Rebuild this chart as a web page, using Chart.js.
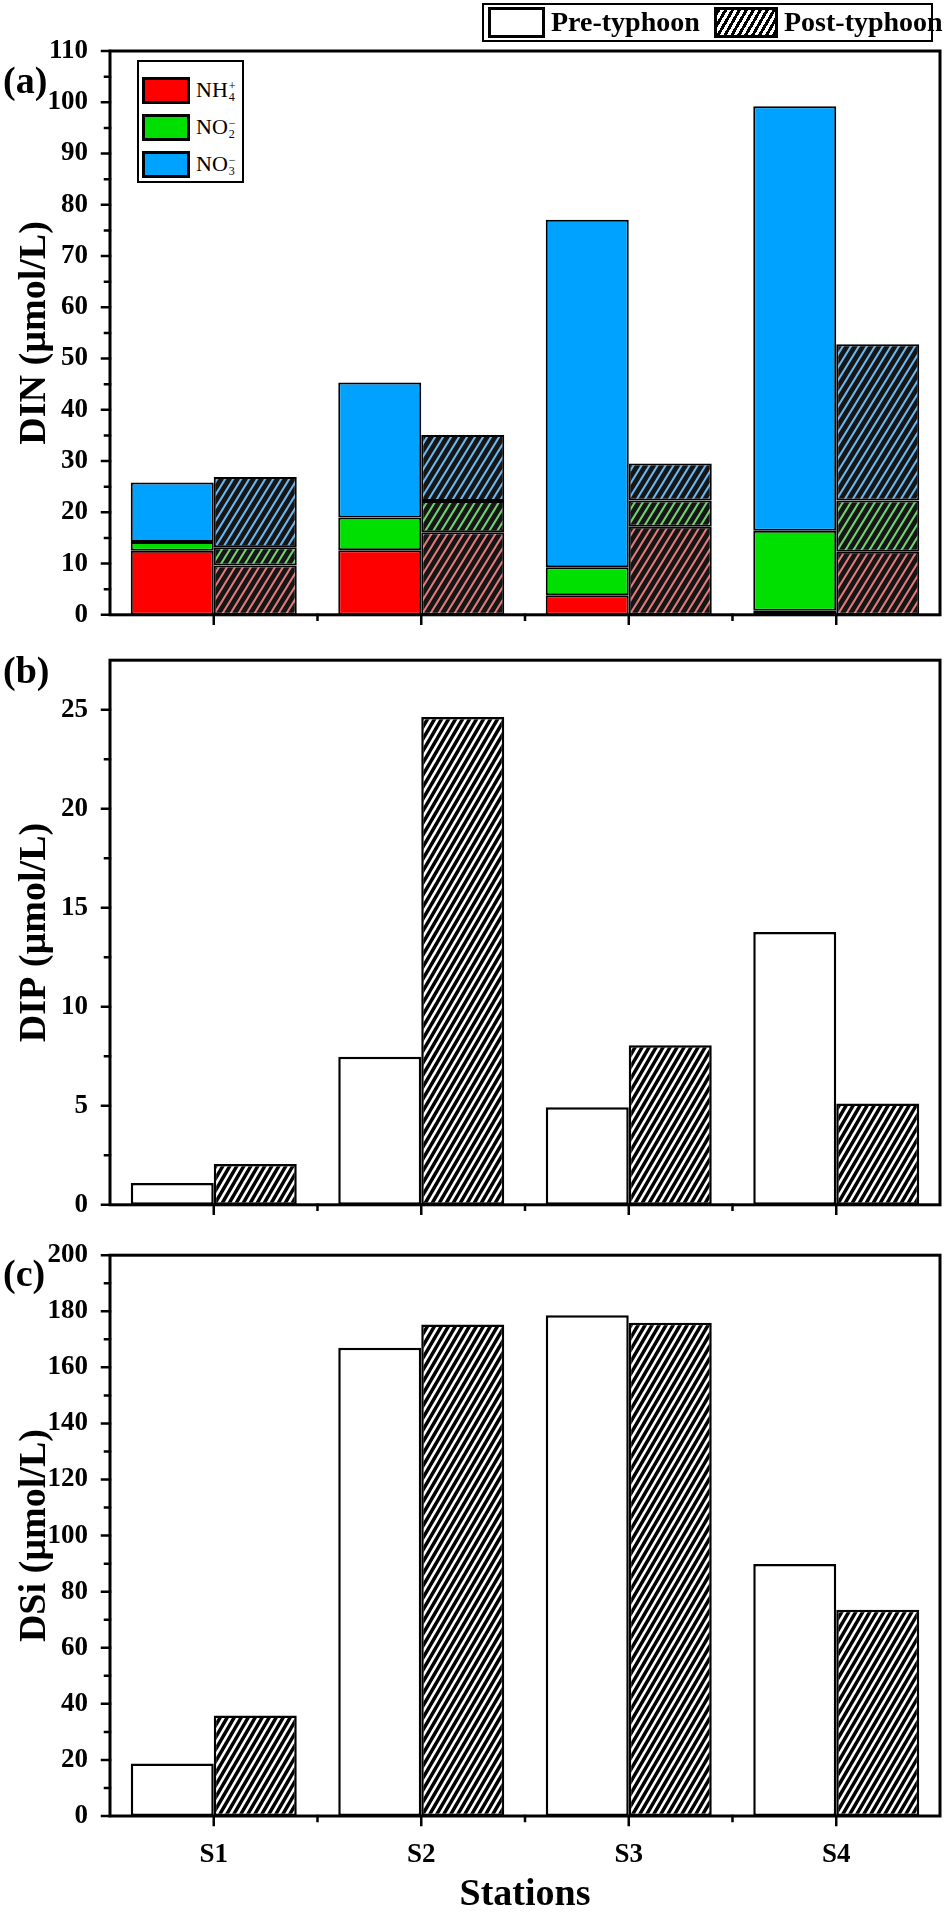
<!DOCTYPE html>
<html><head><meta charset="utf-8">
<script src="https://cdn.jsdelivr.net/npm/chart.js@4.4.0/dist/chart.umd.min.js"></script>
<style>
html,body{margin:0;padding:0;background:#fff;width:945px;height:1913px;overflow:hidden;font-family:'Liberation Serif','Times New Roman',serif;color:#000;}
.pane{position:absolute;left:0;width:945px;}
.plabel{position:absolute;left:3px;font-weight:bold;font-size:38px;line-height:38px;}
.box{position:absolute;box-sizing:border-box;border:2px solid #000;background:#fff;}
.sw{position:absolute;box-sizing:border-box;border:3px solid #000;}
.tl{position:absolute;font-weight:bold;font-size:28px;line-height:32px;white-space:nowrap;}
.il{position:absolute;font-size:22px;line-height:26px;white-space:nowrap;}
.ss{display:inline-flex;flex-direction:column;font-size:12px;line-height:11px;vertical-align:middle;margin-left:1px;}
.hatchsw{background:repeating-linear-gradient(120deg,#000 0 3px,#fff 3px 6px);}
</style></head>
<body>
<div id="pa" class="pane" style="top:0;height:645px;"><canvas id="ca"></canvas></div>
<div id="pb" class="pane" style="top:630px;height:605px;"><canvas id="cb"></canvas></div>
<div id="pc" class="pane" style="top:1225px;height:689px;"><canvas id="cc"></canvas></div>

<div class="plabel" style="top:61px;">(a)</div>
<div class="plabel" style="top:651px;">(b)</div>
<div class="plabel" style="top:1254px;">(c)</div>

<!-- top legend -->
<div class="box" style="left:482px;top:3px;width:451px;height:39px;"></div>
<div class="sw" style="left:488px;top:7px;width:57px;height:31px;background:#fff;"></div>
<div class="tl" style="left:551px;top:6px;">Pre-typhoon</div>
<div class="sw hatchsw" style="left:714px;top:7px;width:64px;height:31px;"></div>
<div class="tl" style="left:784px;top:6px;">Post-typhoon</div>

<!-- inner legend panel a -->
<div class="box" style="left:137px;top:60px;width:107px;height:123px;"></div>
<div class="sw" style="left:142px;top:77px;width:48px;height:27px;background:#ff0000;"></div>
<div class="il" style="left:196px;top:77px;">NH<span class="ss"><span>+</span><span>4</span></span></div>
<div class="sw" style="left:142px;top:114px;width:48px;height:27px;background:#00e000;"></div>
<div class="il" style="left:196px;top:114px;">NO<span class="ss"><span>&minus;</span><span>2</span></span></div>
<div class="sw" style="left:142px;top:151px;width:48px;height:27px;background:#00a2ff;"></div>
<div class="il" style="left:196px;top:151px;">NO<span class="ss"><span>&minus;</span><span>3</span></span></div>

<script>
// ---------- data ----------
const stations = ['S1', 'S2', 'S3', 'S4'];
// (a) DIN components (µmol/L)
const nh4Pre  = [12.5, 12.6, 3.8, 0.8];
const no2Pre  = [1.7, 6.4, 5.5, 15.6];
const no3Pre  = [11.6, 26.3, 67.8, 82.8];
const nh4Post = [9.6, 16.1, 17.2, 12.3];
const no2Post = [3.6, 6.1, 5.1, 10.0];
const no3Post = [13.7, 12.9, 7.2, 30.5];
// (b) DIP (µmol/L)
const dipPre  = [1.1, 7.47, 4.92, 13.77];
const dipPost = [2.06, 24.63, 8.06, 5.11];
// (c) DSi (µmol/L)
const dsiPre  = [18.7, 167.0, 178.6, 89.9];
const dsiPost = [35.8, 175.3, 175.9, 73.6];
// axis ticks
const dinTicks = {max: 110, step: 10};
const dipTicks = {max: 27.5, step: 5};
const dsiTicks = {max: 200, step: 20};

// ---------- styling helpers ----------
const FONT = "'Liberation Serif','Times New Roman',serif";
function hatch(bg, fg, w, h, lw) {
  const c = document.createElement('canvas');
  c.width = w; c.height = h;
  const g = c.getContext('2d');
  g.fillStyle = bg; g.fillRect(0, 0, w, h);
  g.strokeStyle = fg; g.lineWidth = lw;
  g.beginPath();
  for (const k of [-1, 0, 1]) {
    g.moveTo(-w, 2 * h + k * h);
    g.lineTo(2 * w, -h + k * h);
  }
  g.stroke();
  return g.createPattern(c, 'repeat');
}
const hatchBW    = hatch('#000', '#fff', 7, 12, 2.6);
const hatchRed   = hatch('#151515', '#e47a7a', 8, 13, 2);
const hatchGreen = hatch('#151515', '#6fd46f', 8, 13, 2);
const hatchBlue  = hatch('#151515', '#6ab8f0', 8, 13, 2);

const framePlugin = {
  id: 'frame',
  afterDraw(chart) {
    const {ctx, chartArea: a, scales: {x, y}} = chart;
    ctx.save();
    ctx.strokeStyle = '#000';
    ctx.lineCap = 'square';
    ctx.lineWidth = 3;
    ctx.strokeRect(a.left, a.top, a.right - a.left, a.bottom - a.top);
    // y ticks (major + minor)
    ctx.lineWidth = 2.5;
    ctx.beginPath();
    const yt = y.ticks.map(t => t.value);
    yt.forEach((v, i) => {
      const p = y.getPixelForValue(v);
      ctx.moveTo(a.left - 8, p); ctx.lineTo(a.left, p);
      if (i < yt.length - 1) {
        const m = y.getPixelForValue((v + yt[i + 1]) / 2);
        ctx.moveTo(a.left - 5, m); ctx.lineTo(a.left, m);
      }
    });
    // x ticks: major at stations, minor at boundaries
    const n = chart.data.labels.length;
    for (let i = 0; i < n; i++) {
      const p = x.getPixelForValue(i);
      ctx.moveTo(p, a.bottom); ctx.lineTo(p, a.bottom + 9);
      if (i < n - 1) {
        const m = (p + x.getPixelForValue(i + 1)) / 2;
        ctx.moveTo(m, a.bottom); ctx.lineTo(m, a.bottom + 5);
      }
    }
    ctx.stroke();
    ctx.restore();
  }
};

function options({padTop, xHeight, ticksCfg, yTitle, showX, stacked}) {
  const o = {
    responsive: true, maintainAspectRatio: false, animation: false,
    layout: {padding: {top: padTop, right: 5, left: 0, bottom: 0}},
    plugins: {legend: {display: false}, tooltip: {enabled: false}},
    scales: {
      x: {
        stacked: !!stacked,
        grid: {display: false}, border: {display: false},
        ticks: {display: showX, font: {family: FONT, size: 27, weight: 'bold'}, color: '#000', padding: 15, maxRotation: 0},
        title: showX ? {display: true, text: 'Stations', color: '#000',
          font: {family: FONT, size: 38, weight: 'bold', lineHeight: 1}, padding: {top: 0, bottom: 0}} : {display: false},
        afterFit(s) { s.height = xHeight; }
      },
      y: {
        stacked: !!stacked,
        min: 0, max: ticksCfg.max,
        grid: {display: false}, border: {display: false},
        ticks: {stepSize: ticksCfg.step, includeBounds: false, font: {family: FONT, size: 27, weight: 'bold'}, color: '#000', padding: 14},
        title: {display: true, text: yTitle, color: '#000',
          font: {family: FONT, size: 38, weight: 'bold', lineHeight: 1}, padding: {top: 16, bottom: 0}},
        afterFit(s) { s.width = 110; }
      }
    }
  };
  return o;
}

const barCommon = {borderColor: '#000', borderWidth: 2, borderSkipped: false, categoryPercentage: 0.8, barPercentage: 1.0};

new Chart(document.getElementById('ca'), {
  type: 'bar',
  data: {
    labels: stations,
    datasets: [
      {label: 'NH4+ pre', data: nh4Pre, stack: 'pre', backgroundColor: '#ff0000', ...barCommon},
      {label: 'NO2- pre', data: no2Pre, stack: 'pre', backgroundColor: '#00e000', ...barCommon},
      {label: 'NO3- pre', data: no3Pre, stack: 'pre', backgroundColor: '#00a2ff', ...barCommon},
      {label: 'NH4+ post', data: nh4Post, stack: 'post', backgroundColor: hatchRed, ...barCommon},
      {label: 'NO2- post', data: no2Post, stack: 'post', backgroundColor: hatchGreen, ...barCommon},
      {label: 'NO3- post', data: no3Post, stack: 'post', backgroundColor: hatchBlue, ...barCommon}
    ]
  },
  options: options({padTop: 51, xHeight: 19, ticksCfg: dinTicks, yTitle: 'DIN (µmol/L)', showX: false, stacked: true}),
  plugins: [framePlugin]
});

new Chart(document.getElementById('cb'), {
  type: 'bar',
  data: {
    labels: stations,
    datasets: [
      {label: 'Pre-typhoon', data: dipPre, backgroundColor: '#fff', ...barCommon, borderWidth: 2.5},
      {label: 'Post-typhoon', data: dipPost, backgroundColor: hatchBW, ...barCommon, borderWidth: 2.5}
    ]
  },
  options: options({padTop: 17, xHeight: 15, ticksCfg: dipTicks, yTitle: 'DIP (µmol/L)', showX: false}),
  plugins: [framePlugin]
});

new Chart(document.getElementById('cc'), {
  type: 'bar',
  data: {
    labels: stations,
    datasets: [
      {label: 'Pre-typhoon', data: dsiPre, backgroundColor: '#fff', ...barCommon, borderWidth: 2.5},
      {label: 'Post-typhoon', data: dsiPost, backgroundColor: hatchBW, ...barCommon, borderWidth: 2.5}
    ]
  },
  options: options({padTop: 18, xHeight: 98, ticksCfg: dsiTicks, yTitle: 'DSi (µmol/L)', showX: true}),
  plugins: [framePlugin]
});
</script>
</body></html>
